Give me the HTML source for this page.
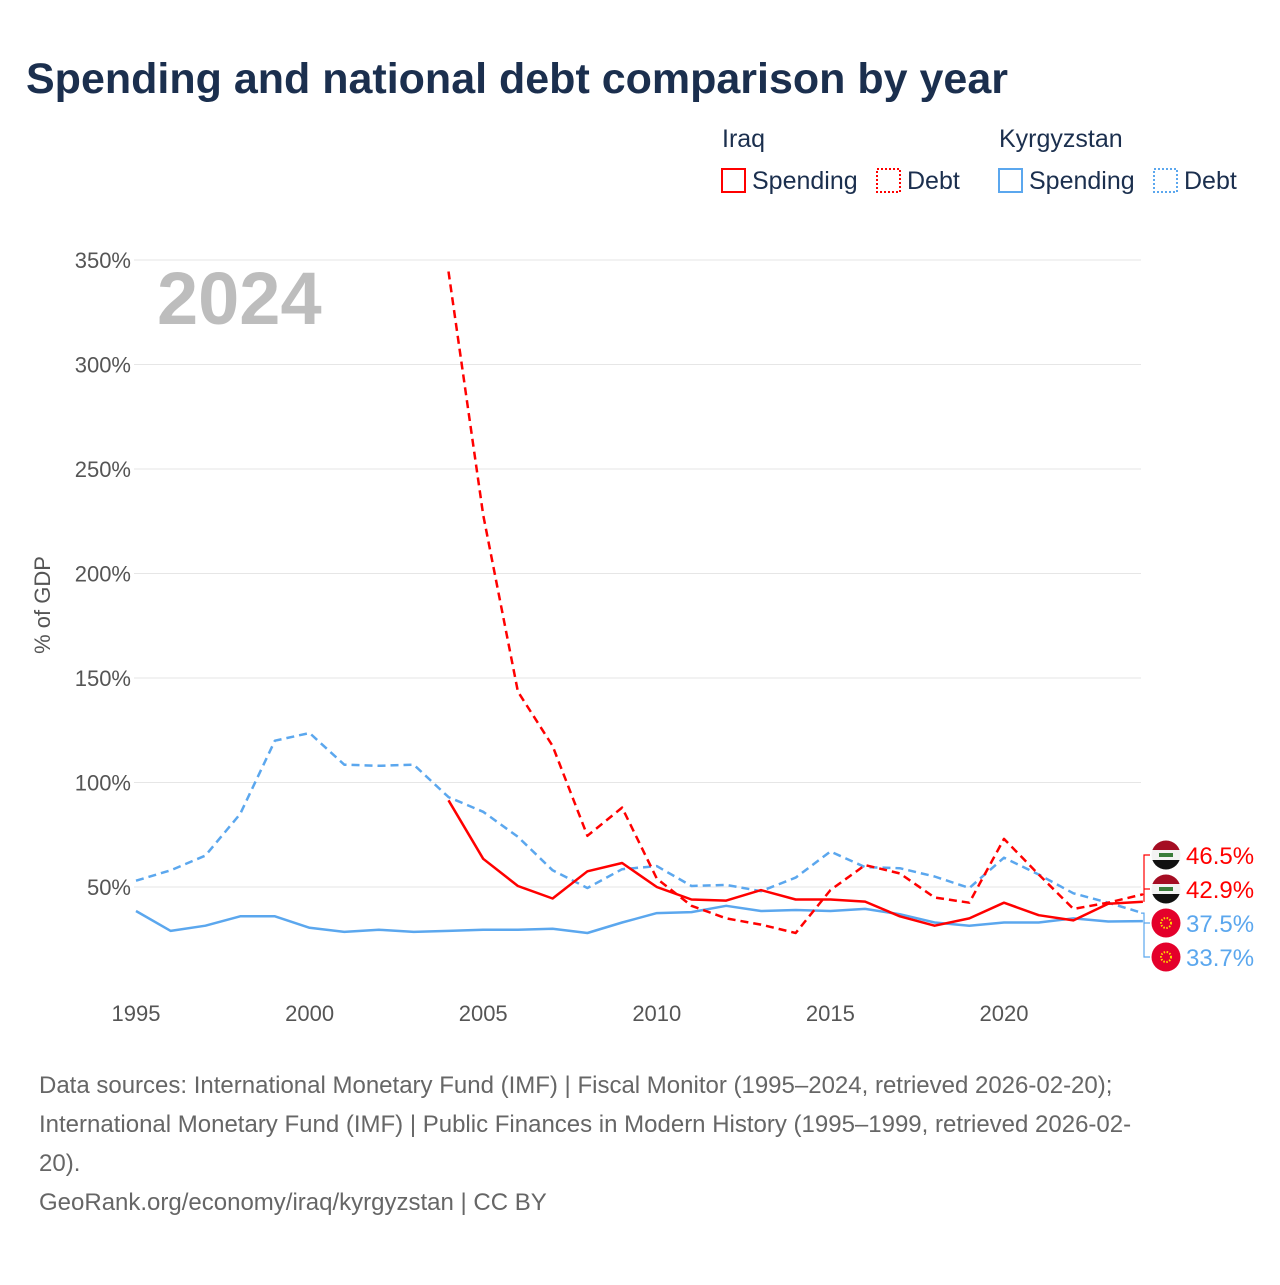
<!DOCTYPE html>
<html><head><meta charset="utf-8">
<style>
body{margin:0;width:1280px;height:1280px;background:#fff;font-family:"Liberation Sans",sans-serif;overflow:hidden}
</style></head><body>
<svg id="chart" width="1280" height="1280" viewBox="0 0 1280 1280" xmlns="http://www.w3.org/2000/svg">
<defs>
<clipPath id="c1"><circle cx="1166" cy="855" r="14.5"/></clipPath>
<clipPath id="c2"><circle cx="1166" cy="889" r="14.5"/></clipPath>
</defs>
<text x="26" y="93" font-size="43" font-weight="bold" fill="#1b2f4e">Spending and national debt comparison by year</text>
<g font-size="25" fill="#1b2f4e">
<text x="722" y="147">Iraq</text>
<text x="999" y="147">Kyrgyzstan</text>
<g><rect x="722" y="169" width="23" height="23" fill="none" stroke="#f00" stroke-width="2"/><text x="752" y="189">Spending</text></g>
<g><rect x="877" y="169" width="23" height="23" fill="none" stroke="#f00" stroke-width="2" stroke-dasharray="2,2"/><text x="907" y="189">Debt</text></g>
<g><rect x="999" y="169" width="23" height="23" fill="none" stroke="#5ba7ee" stroke-width="2"/><text x="1029" y="189">Spending</text></g>
<g><rect x="1154" y="169" width="23" height="23" fill="none" stroke="#5ba7ee" stroke-width="2" stroke-dasharray="2,2"/><text x="1184" y="189">Debt</text></g>
</g>
<text x="157" y="324" font-size="74" font-weight="bold" fill="#bdbdbd">2024</text>
<text transform="translate(50,605) rotate(-90)" text-anchor="middle" font-size="22" fill="#555">% of GDP</text>
<g id="grid"></g><g id="series"></g><g id="ends"></g>
<g font-size="24" fill="#666">
<text x="39" y="1093">Data sources: International Monetary Fund (IMF) | Fiscal Monitor (1995–2024, retrieved 2026-02-20);</text>
<text x="39" y="1132">International Monetary Fund (IMF) | Public Finances in Modern History (1995–1999, retrieved 2026-02-</text>
<text x="39" y="1171">20).</text>
<text x="39" y="1210">GeoRank.org/economy/iraq/kyrgyzstan | CC BY</text>
</g>
</svg>
<script>
const years=[];for(let y=1995;y<=2024;y++)years.push(y);
const yTicks=[50,100,150,200,250,300,350];
const xTicks=[1995,2000,2005,2010,2015,2020];
const kgzSpending=[38.5,29,31.5,36,36,30.5,28.5,29.5,28.5,29,29.5,29.5,30,28,33,37.5,38,41,38.5,39,38.5,39.5,37,33,31.5,33,33,35,33.5,33.7];
const kgzDebt=[53,58,65,85,120,123.7,108.5,108,108.5,93,86,74,58,49.5,58.5,60,50.5,51,48,54.5,67,59.5,59,55,49.5,64,56,47,42.5,37.5];
const iraqSpending=[null,null,null,null,null,null,null,null,null,91.5,63.5,50.5,44.5,57.5,61.5,50,44,43.5,48.5,44,44,43,36,31.5,35,42.5,36.5,34,42,42.9];
const iraqDebt=[null,null,null,null,null,null,null,null,null,344.5,228,143.5,117.5,74.5,88,54,41,35,32,28,48.5,60.5,56.5,45,42.5,73,56,39.5,42.5,46.5];
const X=y=>136+(y-1995)*34.72;
const Y=v=>991.5-v*2.09;
const NS="http://www.w3.org/2000/svg";
function mk(tag,attrs,parent){const e=document.createElementNS(NS,tag);for(const k in attrs)e.setAttribute(k,attrs[k]);parent.appendChild(e);return e;}
const grid=document.getElementById('grid');
yTicks.forEach(t=>{
 const l=mk('line',{x1:134,x2:1141,y1:Y(t),y2:Y(t),stroke:'#e6e6e6','stroke-width':1},grid);
 
 
 const tx=mk('text',{x:131,y:Y(t)+8,'text-anchor':'end','font-size':22,fill:'#555'},grid);
 tx.textContent=t+'%';
 
 
});
xTicks.forEach(t=>{
 const tx=mk('text',{x:X(t),y:1021,'text-anchor':'middle','font-size':22,fill:'#555'},grid);
 tx.textContent=t;
 
 
});
const ser=document.getElementById('series');
function line(vals,color,dash,name){
 let d='';let started=false;
 vals.forEach((v,i)=>{if(v==null)return;d+=(started?'L':'M')+X(years[i]).toFixed(1)+','+Y(v).toFixed(1);started=true;});
 const p=mk('path',{d:d,fill:'none',stroke:color,'stroke-width':2.5,'stroke-dasharray':dash?'8,5':'none','stroke-linejoin':'round'},ser);
 
 
}
line(kgzSpending,'#5ba7ee',false,'line-kyrgyzstan-spending');
line(kgzDebt,'#5ba7ee',true,'line-kyrgyzstan-debt');
line(iraqSpending,'#f00',false,'line-iraq-spending');
line(iraqDebt,'#f00',true,'line-iraq-debt');
const ends=document.getElementById('ends');
mk('path',{d:'M1141,'+Y(46.5)+' H1144 V855 H1150 M1144,'+Y(42.9)+' V889 H1150',stroke:'#f00',fill:'none','stroke-width':1.2},ends);
mk('path',{d:'M1141,'+Y(37.5)+' H1144 V923 H1150 M1144,923 V957 H1150',stroke:'#5ba7ee',fill:'none','stroke-width':1.2},ends);
const endLabels=[[iraqDebt[29],'#f00','iraq',855,'c1'],[iraqSpending[29],'#f00','iraq',889,'c2'],[kgzDebt[29],'#5ba7ee','kgz',923],[kgzSpending[29],'#5ba7ee','kgz',957]];
endLabels.forEach((e,i)=>{
 const g=mk('g',{},ends);
 
 
 const cx=1166,cy=e[3];
 if(e[2]=='iraq'){
  const f=mk('g',{'clip-path':'url(#'+e[4]+')'},g);
  mk('rect',{x:cx-15,y:cy-15,width:30,height:10,fill:'#a50d23'},f);
  mk('rect',{x:cx-15,y:cy-5,width:30,height:10,fill:'#f3f3f3'},f);
  mk('rect',{x:cx-15,y:cy+5,width:30,height:10,fill:'#111'},f);
  mk('rect',{x:cx-7,y:cy-2,width:14,height:4,fill:'#3a7d3a'},f);
 }else{
  mk('circle',{cx:cx,cy:cy,r:14.5,fill:'#e4002b'},g);
  mk('circle',{cx:cx,cy:cy,r:5,fill:'none',stroke:'#ffd700','stroke-width':2,'stroke-dasharray':'1.5,1.5'},g);
 }
 const t=mk('text',{x:1186,y:cy+9,'font-size':24,fill:e[1]},g);
 t.textContent=e[0].toFixed(1)+'%';
});
</script>
</body></html>
